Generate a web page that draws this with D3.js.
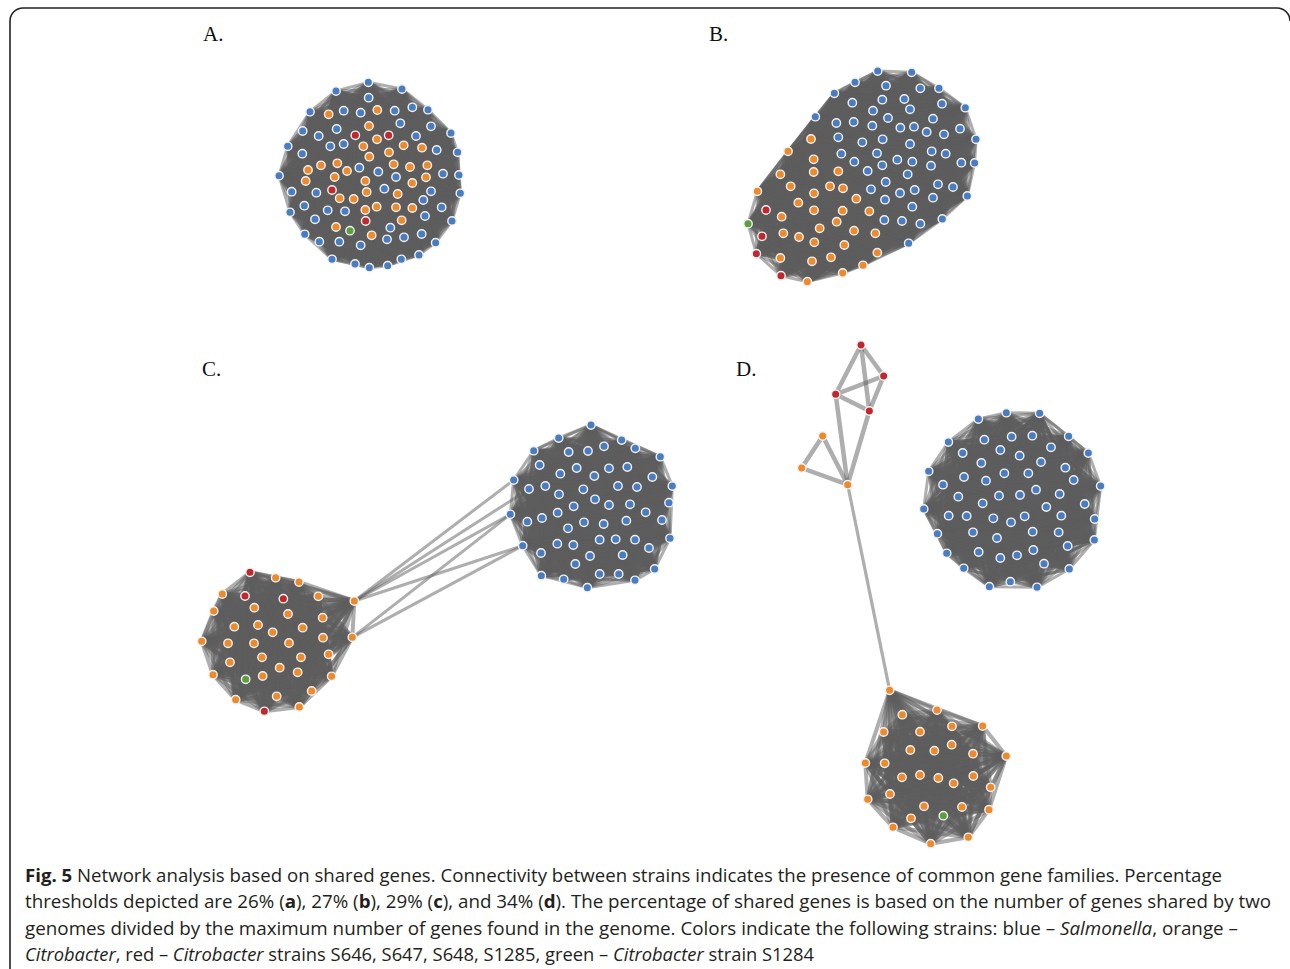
<!DOCTYPE html>
<html>
<head>
<meta charset="utf-8">
<script src="https://cdn.jsdelivr.net/npm/d3@7"></script>
<style>
  html, body { margin: 0; padding: 0; background: #fff; }
  svg { display: block; }
</style>
</head>
<body>
<div id="fig"></div>
<script>
// Figure size
const WIDTH = 1290, HEIGHT = 969;

// Node layout coordinates (layout units, 3 units = 1 px) for each cluster
// Panel A - one big cluster
const blueA = [[295,22],[198,48],[396,42],[296,68],[120,110],[221,107],[272,113],[374,107],[427,97],[474,104],[391,145],[483,154],[98,168],[200,162],[146,183],[438,183],[543,174],[53,214],[97,236],[181,214],[221,207],[500,225],[563,232],[27,302],[268,278],[325,290],[378,306],[519,296],[567,300],[65,350],[139,353],[343,341],[483,349],[571,355],[60,412],[103,392],[173,406],[225,409],[460,375],[515,397],[135,433],[465,423],[546,438],[361,458],[455,477],[104,478],[148,500],[208,500],[351,493],[402,487],[272,511],[497,503],[447,540],[186,553],[255,567],[298,578],[353,572],[394,553]];
const orangeA = [[322,105],[176,118],[297,153],[321,193],[401,211],[456,218],[280,214],[357,232],[298,245],[153,271],[202,265],[114,285],[231,288],[371,268],[420,276],[472,271],[107,318],[194,306],[286,318],[468,307],[427,324],[290,351],[383,357],[209,370],[251,372],[320,395],[286,405],[378,397],[427,399],[395,436],[198,456],[305,481]];
const redA = [[256,181],[356,181],[186,345],[287,438]];
const greenA = [[240,467]];

// Panel B - one big cluster
const blueB = [[413,18],[515,22],[345,52],[438,62],[541,70],[597,70],[283,85],[337,113],[427,104],[493,102],[606,116],[399,137],[510,133],[676,128],[226,155],[289,174],[341,171],[444,159],[579,161],[397,182],[481,188],[522,185],[560,201],[612,208],[660,191],[708,223],[295,217],[367,232],[428,223],[510,237],[575,259],[617,266],[304,266],[411,265],[472,284],[343,290],[427,301],[517,290],[573,302],[664,293],[704,294],[383,318],[503,328],[437,351],[594,358],[639,366],[393,373],[480,384],[524,375],[682,393],[435,404],[579,398],[517,425],[433,465],[486,468],[541,476],[607,462],[506,535]];
const orangeB = [[213,222],[144,259],[221,283],[121,328],[221,321],[295,319],[152,364],[270,364],[309,370],[52,379],[222,385],[349,401],[175,413],[222,436],[308,437],[388,439],[125,455],[290,470],[239,490],[130,505],[177,516],[342,497],[406,505],[223,532],[313,540],[412,563],[121,579],[216,589],[273,577],[369,601],[308,624],[202,650]];
const redB = [[78,435],[66,514],[49,566],[123,632]];
const greenB = [[24,476]];

// Panel C - two clusters joined by a few edges
const blueCR = [[273,30],[176,69],[365,75],[101,107],[206,111],[264,108],[312,94],[406,100],[481,125],[119,150],[230,159],[327,160],[382,156],[181,176],[283,183],[457,186],[41,195],[87,222],[136,213],[250,223],[354,213],[411,216],[517,213],[177,238],[285,253],[221,274],[327,270],[390,268],[507,263],[31,298],[173,293],[437,292],[82,320],[126,309],[252,322],[311,327],[379,317],[486,315],[204,340],[299,374],[347,373],[405,374],[510,370],[68,392],[172,386],[220,390],[447,399],[123,414],[270,423],[368,420],[226,447],[464,462],[124,482],[299,477],[356,477],[191,493],[405,496],[262,518]];
const orangeCL = [[242,38],[312,51],[82,87],[370,94],[478,108],[178,128],[56,138],[279,147],[383,158],[118,185],[189,180],[323,188],[233,202],[384,218],[472,217],[20,229],[99,235],[177,235],[282,234],[401,268],[201,277],[318,277],[105,292],[254,308],[308,322],[54,329],[203,333],[410,334],[350,378],[245,394],[122,404],[313,426]];
const redCL = [[165,22],[150,93],[265,101],[208,439]];
const greenCL = [[152,343]];
// bridges: [orangeCL index, blueCR index]
const bridgesC = [[4,16],[4,17],[4,29],[4,43],[14,29],[14,43]];

// Panel D - small group, Salmonella cluster, Citrobacter cluster
const redDT = [[213,30],[281,123],[137,178],[238,228]];
const orangeDT = [[98,303],[35,399],[173,449]];
// edges in the small group: r = red, o = orange
const linksDT = [["r0","r1"],["r0","r2"],["r0","r3"],["r1","r2"],["r1","r3"],["r2","r3"],["r2","o2"],["r3","o2"],["o0","o1"],["o0","o2"],["o1","o2"]];
const blueDR = [[274,38],[374,40],[190,57],[461,109],[100,126],[208,119],[290,110],[352,107],[408,142],[256,150],[520,159],[143,159],[314,167],[378,186],[199,189],[451,203],[41,214],[268,220],[340,220],[147,231],[213,242],[476,240],[84,254],[557,258],[363,269],[130,290],[252,287],[315,285],[434,282],[203,310],[509,312],[394,321],[26,327],[101,347],[155,348],[235,355],[288,367],[329,349],[439,347],[539,357],[67,401],[174,397],[353,395],[431,397],[246,414],[538,420],[458,438],[95,460],[191,456],[355,450],[256,474],[306,466],[387,491],[146,505],[463,507],[286,545],[223,560],[366,562]];
const orangeDB = [[104,31],[246,90],[142,104],[291,139],[383,138],[86,156],[195,155],[290,194],[166,210],[238,212],[354,221],[454,228],[31,249],[89,250],[195,285],[141,292],[250,294],[296,310],[355,288],[407,322],[105,342],[38,358],[207,379],[321,381],[402,389],[168,415],[114,442],[340,472],[227,491]];
const greenDB = [[265,407]];

// Caption lines: [text, style] segments
const caption = [
  [["Fig. 5", "b"], [" Network analysis based on shared genes. Connectivity between strains indicates the presence of common gene families. Percentage", ""]],
  [["thresholds depicted are 26% (", ""], ["a", "b"], ["), 27% (", ""], ["b", "b"], ["), 29% (", ""], ["c", "b"], ["), and 34% (", ""], ["d", "b"], ["). The percentage of shared genes is based on the number of genes shared by two", ""]],
  [["genomes divided by the maximum number of genes found in the genome. Colors indicate the following strains: blue \u2013 ", ""], ["Salmonella", "i"], [", orange \u2013", ""]],
  [["Citrobacter", "i"], [", red \u2013 ", ""], ["Citrobacter", "i"], [" strains S646, S647, S648, S1285, green \u2013 ", ""], ["Citrobacter", "i"], [" strain S1284", ""]]
];
const captionWidths = [1197, 1246, 1213, 789];
const panelLabels = ["A.", "B.", "C.", "D."];

const colors = {blue: "#4a7dc0", orange: "#ec8a2c", red: "#c0282e", green: "#5ba03c"};

let svg = d3.select("#fig").append("svg")
  .attr("width", WIDTH)
  .attr("height", HEIGHT);

// outer frame
svg.append("path")
  .attr("d", "M10,969 V21 A13,13 0 0 1 23,8 H1277 A13,13 0 0 1 1290,21")
  .attr("fill", "none")
  .attr("stroke", "#222")
  .attr("stroke-width", 1.6);

// panel labels
let labelX = {"A.": 203, "B.": 709, "C.": 202, "D.": 736};
let labelY = {"A.": 41, "B.": 41, "C.": 376, "D.": 376};
svg.selectAll("text.plabel")
  .data(panelLabels)
  .enter()
  .append("text")
  .attr("class", "plabel")
  .attr("x", d => labelX[d])
  .attr("y", d => labelY[d])
  .style("font-family", "'Liberation Serif', 'DejaVu Serif', serif")
  .style("font-size", "21px")
  .style("fill", "#111")
  .text(d => d);

// build a cluster: its own layout box placed on the page
function makeCluster(name, left, top, groups) {
  let x = d3.scaleLinear().domain([0, 3]).range([left, left + 1]);
  let y = d3.scaleLinear().domain([0, 3]).range([top, top + 1]);
  let nodes = [];
  Object.entries(groups).forEach(function([type, pts]) {
    pts.forEach(function(p, i) {
      nodes.push({id: name + "-" + type + i, type: type, x: x(p[0]), y: y(p[1])});
    });
  });
  return nodes;
}

let cA  = makeCluster("A", 270, 75, {blue: blueA, orange: orangeA, red: redA, green: greenA});
let cB  = makeCluster("B", 740, 65, {blue: blueB, orange: orangeB, red: redB, green: greenB});
let cCR = makeCluster("CR", 500, 415, {blue: blueCR});
let cCL = makeCluster("CL", 195, 565, {orange: orangeCL, red: redCL, green: greenCL});
let cDT = makeCluster("DT", 790, 335, {red: redDT, orange: orangeDT});
let cDR = makeCluster("DR", 915, 400, {blue: blueDR});
let cDB = makeCluster("DB", 855, 680, {orange: orangeDB, green: greenDB});

let byId = {};
[cA, cB, cCR, cCL, cDT, cDR, cDB].forEach(c => c.forEach(n => byId[n.id] = n));

// dense clusters: every strain shares genes with every other strain
let links = [];
[cA, cB, cCR, cCL, cDR, cDB].forEach(function(c) {
  let w = c.length < 45 ? 4 : 3;
  for (let i = 0; i < c.length; i++) {
    for (let j = i + 1; j < c.length; j++) {
      links.push({source: c[i], target: c[j], w: w});
    }
  }
});
bridgesC.forEach(function(b) {
  links.push({source: byId["CL-orange" + b[0]], target: byId["CR-blue" + b[1]], w: 3});
});
linksDT.forEach(function(l) {
  let s = byId["DT-" + (l[0][0] == "r" ? "red" : "orange") + l[0].slice(1)];
  let t = byId["DT-" + (l[1][0] == "r" ? "red" : "orange") + l[1].slice(1)];
  links.push({source: s, target: t, w: 4.5});
});
links.push({source: byId["DT-orange2"], target: byId["DB-orange0"], w: 3.2});

let linkG = svg.append("g");
linkG.selectAll("line")
  .data(links)
  .enter()
  .append("line")
  .attr("x1", d => d.source.x)
  .attr("y1", d => d.source.y)
  .attr("x2", d => d.target.x)
  .attr("y2", d => d.target.y)
  .attr("stroke", "#5e5e5e")
  .attr("stroke-opacity", 0.5)
  .attr("stroke-width", d => d.w)
  .attr("stroke-linecap", "round");

let allNodes = [].concat(cA, cB, cCR, cCL, cDT, cDR, cDB);
svg.append("g")
  .selectAll("circle")
  .data(allNodes)
  .enter()
  .append("circle")
  .attr("cx", d => d.x)
  .attr("cy", d => d.y)
  .attr("r", 4.2)
  .attr("fill", d => colors[d.type])
  .attr("stroke", "#f2f2f2")
  .attr("stroke-width", 1.4);

// caption
let capG = svg.append("g")
  .style("font-family", "'Open Sans', 'Noto Sans', sans-serif")
  .style("font-size", "18.5px")
  .style("fill", "#231f20");
caption.forEach(function(line, i) {
  let t = capG.append("text")
    .attr("x", 25)
    .attr("y", 882 + i * 26.4)
    .attr("textLength", captionWidths[i])
    .attr("lengthAdjust", "spacingAndGlyphs");
  line.forEach(function(seg) {
    t.append("tspan")
      .style("font-weight", seg[1] == "b" ? "bold" : "normal")
      .style("font-style", seg[1] == "i" ? "italic" : "normal")
      .text(seg[0]);
  });
});
</script>
</body>
</html>
